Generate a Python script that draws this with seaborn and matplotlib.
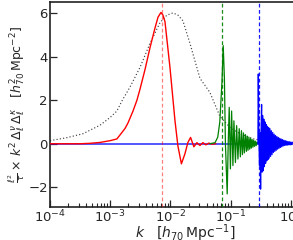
import numpy as np
import pandas as pd
import matplotlib
matplotlib.use("Agg")
import matplotlib.pyplot as plt
import seaborn as sns

# ---- data ----
dot_k = [1.0e-4, 1.91e-4, 3.53e-4, 6.76e-4, 9.9e-4, 1.29e-3, 1.57e-3, 2.13e-3, 3.12e-3,
         4.57e-3, 6.70e-3, 8.75e-3, 1.10e-2, 1.33e-2, 1.61e-2, 2.11e-2, 3.09e-2, 4.53e-2,
         6.64e-2, 9.73e-2, 0.143, 0.234, 0.370, 0.586, 1.0, 1.1]
dot_v = [0.14, 0.28, 0.46, 0.85, 1.2, 1.5, 1.97, 2.6, 3.5,
         4.6, 5.55, 5.9, 6.0, 5.9, 5.64, 4.6, 3.0, 2.35,
         1.25, 0.75, 0.46, 0.23, 0.12, 0.06, 0.02, 0.02]

red_k = [1.0e-4, 3.15e-4, 4.61e-4, 6.76e-4, 9.9e-4, 1.29e-3, 1.45e-3, 1.76e-3, 1.97e-3,
         2.39e-3, 2.78e-3, 3.12e-3, 3.78e-3, 4.57e-3, 5.53e-3, 6.21e-3, 6.95e-3, 7.51e-3,
         8.11e-3, 9.82e-3, 1.19e-2, 1.33e-2, 1.52e-2, 1.74e-2, 1.95e-2, 2.16e-2, 2.45e-2,
         2.75e-2, 3.09e-2, 3.46e-2, 3.88e-2, 4.35e-2, 4.88e-2, 5.69e-2]
red_v = [0.0, 0.0, 0.02, 0.06, 0.14, 0.22, 0.4, 0.7, 0.95,
         1.5, 2.0, 2.5, 3.4, 4.4, 5.3, 5.8, 6.02, 5.9,
         5.6, 3.5, 1.05, -0.1, -0.92, -0.46, 0.06, 0.29, -0.14,
         0.05, -0.08, 0.05, -0.05, 0.03, -0.02, 0.0]

green_k = [0.045, 0.055, 0.061, 0.066, 0.0716, 0.0752, 0.0787, 0.0818, 0.0876, 0.091,
           0.0946, 0.099, 0.1037, 0.109, 0.1132, 0.12, 0.1256, 0.132, 0.1387, 0.145,
           0.151, 0.157, 0.163, 0.169, 0.176, 0.1825, 0.188, 0.194, 0.201, 0.207,
           0.214, 0.220, 0.227, 0.234, 0.241, 0.249, 0.2565, 0.2645, 0.273, 0.283]
green_v = [0.0, 0.05, 0.3, 1.0, 2.8, 4.5, 3.0, 0.0, -2.3, 0.0,
           1.67, -1.15, 1.5, -1.0, 1.05, -0.86, 0.83, -0.7, 0.69, -0.6,
           0.6, -0.5, 0.5, -0.42, 0.42, -0.35, 0.35, -0.3, 0.3, -0.25,
           0.25, -0.2, 0.2, -0.16, 0.16, -0.12, 0.12, -0.09, 0.08, 0.0]

blue_k = [0.2833, 0.2876, 0.2943, 0.3011, 0.3081, 0.3141, 0.3201, 0.3263, 0.3326, 0.3390,
          0.3469, 0.3549, 0.3633, 0.3717, 0.3802, 0.3890, 0.3981, 0.4074, 0.4168, 0.4265,
          0.4364, 0.4482, 0.4603, 0.4727, 0.4856, 0.4987, 0.5123, 0.5263, 0.5405, 0.5552,
          0.5702, 0.5857, 0.6017, 0.6180, 0.6347, 0.6519, 0.6697, 0.6878, 0.7064, 0.7256,
          0.7452, 0.7654, 0.7860, 0.8074, 0.8293, 0.8518, 0.8748, 0.8986, 0.9229, 0.9480,
          0.9737, 1.0, 1.03, 1.06]
blue_v = [0.0, 3.2, 0.2, -1.0, 0.5, -2.08, 0.6, 1.8, -1.3, 1.3,
          -1.24, 1.13, -1.05, 1.0, -0.9, 0.88, -0.78, 0.8, -0.72, 0.74,
          -0.66, 0.69, -0.58, 0.6, -0.5, 0.52, -0.4, 0.44, -0.35, 0.38,
          -0.3, 0.33, -0.25, 0.29, -0.21, 0.25, -0.17, 0.22, -0.14, 0.19,
          -0.1, 0.16, -0.08, 0.14, -0.07, 0.12, -0.06, 0.1, -0.05, 0.09,
          -0.05, 0.08, -0.04, 0.07]

vlines_k = [7.2e-3, 0.0725, 0.291]
vline_colors = ["red", "green", "blue"]
vline_alpha = [0.5, 0.9, 0.9]

# ---- plot ----
sns.set_style("ticks")
plt.rcParams['font.family'] = ['DejaVu Sans']

fig = plt.figure(figsize=(2.93, 2.40), dpi=100)
# the axes runs past the right edge of the picture, as in the (cropped) reference
ax = fig.add_axes([50/293, 33/240, 271/293, 205/240])

ax.axhline(0, color="blue", lw=1.1, alpha=0.85, zorder=1)

sns.lineplot(x=dot_k, y=dot_v, ax=ax, color="#444444", lw=0.85, linestyle=(0, (1, 1.8)),
             sort=False, estimator=None, zorder=2)
sns.lineplot(x=red_k, y=red_v, ax=ax, color="red", lw=1.0, sort=False, estimator=None, zorder=3)
sns.lineplot(x=green_k, y=green_v, ax=ax, color="green", lw=0.9, sort=False, estimator=None, zorder=3)
sns.lineplot(x=blue_k, y=blue_v, ax=ax, color="blue", lw=0.9, sort=False, estimator=None, zorder=4)

for k, c, a in zip(vlines_k, vline_colors, vline_alpha):
    ax.axvline(k, color=c, ls=(0, (3, 2)), lw=0.9, alpha=a, zorder=5)

ax.set_xscale("log")
ax.set_xlim(1e-4, 10**0.5)
ax.set_ylim(-2.9, 6.5)
ax.set_yticks([-2, 0, 2, 4, 6])

ax.tick_params(axis="both", which="both", direction="in", labelsize=9.5, top=False, right=False,
               pad=1.5)
ax.tick_params(axis="both", which="major", length=5, width=0.9)
ax.tick_params(axis="x", which="minor", length=3, width=0.8)
for s in ax.spines.values():
    s.set_linewidth(1.2)
    s.set_color("#222222")

ax.set_xlabel(r"$k\quad[h_{70}\,\mathrm{Mpc}^{-1}]$", fontsize=10)
ax.xaxis.set_label_coords(0.5, -0.13)
ax.xaxis.label.set_va("center")
ax.set_ylabel(r"$\frac{\ell^2}{\tau}\times\,k^2\,\Delta_\ell^{\nu}\,\Delta_\ell^{\kappa}\quad[h_{70}^2\,\mathrm{Mpc}^{-2}]$",
              fontsize=9, labelpad=1)

fig.savefig("out.png", dpi=100)
